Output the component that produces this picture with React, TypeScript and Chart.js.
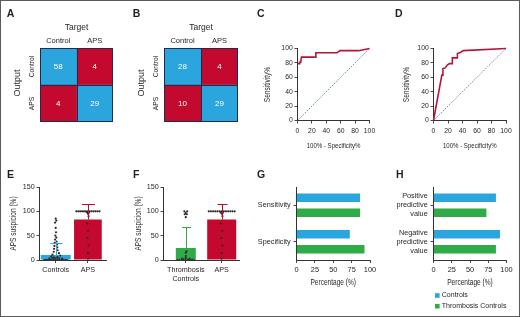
import React, { useEffect, useRef } from 'react';
import { Chart, registerables } from 'chart.js';

Chart.register(...registerables);

// ---------------- data ----------------
const matrixTargets = ['Control', 'APS'];
const matrixOutputs = ['Control', 'APS'];
// counts per Target column, rows = Output (Control, APS)
const matrixA_targetControl = [58, 4];
const matrixA_targetAPS = [4, 29];
const matrixB_targetControl = [28, 10];
const matrixB_targetAPS = [4, 29];

const rocTicks = [0, 20, 40, 60, 80, 100];
const chanceFpr = [0, 100];
const chanceSens = [0, 100];
const rocC_fpr = [0, 2.5, 3, 4.5, 5.5, 24.5, 25.5, 55, 59, 85, 100];
const rocC_sens = [79, 79, 81, 81, 88, 88, 94, 94, 97, 97, 100];
const rocD_fpr = [0, 11.5, 12.8, 13, 16, 19, 22, 26, 26, 33, 33, 37, 41, 100];
const rocD_sens = [0, 63, 63, 72, 73, 77, 79, 79, 87, 87, 93, 94.5, 97, 100];

const suspicionTicks = [0, 50, 100, 150];
const groupsE = ['Controls', 'APS'];
const meansE = [10.5, 83];
const sdUpperE = [34, 115];
const groupsF = [['Thrombosis', 'Controls'], 'APS'];
const meansF = [24.5, 83];
const sdUpperF = [68.5, 115];

const controlsDotOffsets = [0, 0.02, -0.02, 0, 0.01, -0.01, 0.02, -0.02, 0.03, -0.03, 0.04, -0.04, 0.05, -0.05, 0.06, -0.06, 0.1, -0.1, 0.14, -0.14,
  -0.36, -0.3, -0.24, -0.18, -0.12, -0.06, 0, 0.06, 0.12, 0.18, 0.24, 0.3, 0.36, -0.2, -0.1, 0, 0.1, 0.2, -0.05, 0.05];
const controlsDotValues = [85, 81, 77, 66, 57, 50, 46, 42, 38, 35, 32, 29, 26, 23, 20, 17, 14, 11, 9, 7,
  0, 0.5, 0, 1, 0, 1.5, 0, 1, 0, 1.5, 0, 0.5, 0, 3, 4, 3.5, 4, 3, 5.5, 6];
const apsDotOffsets = [-0.36, -0.3, -0.24, -0.18, -0.12, -0.06, 0, 0.06, 0.12, 0.18, 0.24, 0.3, 0.36, -0.03, 0.03, 0, 0.02, -0.02, 0.01, -0.01, 0.02, 0, 0];
const apsDotValues = [100, 100, 100, 100, 100, 100, 100, 100, 100, 100, 100, 100, 100, 98, 97, 95, 90, 75, 60, 45, 30, 14, 3];
const thrombosisDotOffsets = [-0.24, -0.18, -0.12, -0.06, 0, 0.06, 0.12, 0.18, 0.24, -0.1, 0, 0.1, 0, 0, 0.02, -0.04, 0.04, 0, -0.03, 0.03, 0];
const thrombosisDotValues = [0, 0.5, 0, 1, 0, 0.5, 0, 1, 0, 3, 4, 2.5, 8, 15, 18, 100, 100, 97, 94, 94, 88];

const seriesNames = ['Controls', 'Thrombosis Controls'];
const percentTicks = [0, 25, 50, 75, 100];
const metricsG = ['Sensitivity', 'Specificity'];
const controlsG = [86.5, 72.5];
const thrombosisG = [86.5, 92.5];
const metricsH = [['Positive', 'predictive', 'value'], ['Negative', 'predictive', 'value']];
const controlsH = [85.5, 91];
const thrombosisH = [72.5, 85.5];

// ---------------- styles ----------------
const W = 520;
const H = 317;
const SANS = '"Liberation Sans", Arial, Helvetica, sans-serif';
const TEXT = '#231f20';
const AXIS = '#333333';
const BLUE = '#2aa5de';
const RED = '#c30a2e';
const GREEN = '#2fac47';
const NAVY = '#1f2b48';
const ROC_RED = '#b5153b';
const DIAG = '#3d6fb6';
const DOT = '#2b2b2b';
const SQUEEZE = 0.8; // condensed look of the axis titles

Chart.defaults.font.family = SANS;

type Area = { l: number; t: number; r: number; b: number };

function padFor(a: Area, leftW: number, bottomH: number) {
  return { left: a.l - leftW, top: a.t, right: W - a.r, bottom: H - a.b - bottomH };
}

// draws text horizontally squeezed (condensed face substitute)
function squeezedText(ctx: any, text: string, x: number, y: number, size: number, rotate: boolean, squeeze = SQUEEZE) {
  ctx.save();
  ctx.translate(x, y);
  if (rotate) ctx.rotate(-Math.PI / 2);
  ctx.scale(squeeze, 1);
  ctx.font = `${size}px ${SANS}`;
  ctx.textAlign = 'center';
  ctx.textBaseline = 'middle';
  ctx.fillStyle = TEXT;
  ctx.fillText(text, 0, 0);
  ctx.restore();
}

// axis titles in a condensed style, placed at the outer edge of each axis box
function axisTitles(xTitle: string | null, yTitle: string | null, xSize = 8, ySize = 8) {
  return {
    id: 'axisTitles',
    afterDraw(chart: any) {
      const { ctx } = chart;
      const xs = chart.scales.x;
      const ys = chart.scales.y;
      if (xTitle) squeezedText(ctx, xTitle, (xs.left + xs.right) / 2, xs.bottom - xSize / 2, xSize, false);
      if (yTitle) squeezedText(ctx, yTitle, ys.left + ySize / 2, (ys.top + ys.bottom) / 2, ySize, true);
    },
  };
}

function linAxis(axis: 'x' | 'y', min: number, max: number, ticks: number[],
  tickSize: number, tickPad: number, thickness: number, labelFn?: (v: number) => any) {
  return {
    type: 'linear',
    min,
    max,
    offset: false,
    afterBuildTicks: (s: any) => { s.ticks = ticks.map((v) => ({ value: v })); },
    afterFit: (s: any) => { if (axis === 'x') s.height = thickness; else s.width = thickness; },
    grid: { drawOnChartArea: false, drawTicks: true, tickLength: 3, color: AXIS, lineWidth: 0.9, offset: false },
    border: { display: true, color: AXIS, width: 1 },
    ticks: {
      color: TEXT,
      font: { family: SANS, size: tickSize, lineHeight: 1.2 },
      padding: tickPad,
      autoSkip: false,
      maxRotation: 0,
      minRotation: 0,
      ...(labelFn ? { callback: (v: any) => labelFn(v) } : {}),
    },
    title: { display: false },
  };
}

const baseOptions = {
  responsive: false,
  animation: false,
  events: [],
};
const noPlugins = { legend: { display: false }, tooltip: { enabled: false } };

// ---------------- plugins ----------------
function matrixDecor() {
  return {
    id: 'matrixDecor',
    afterDatasetsDraw(chart: any) {
      const { ctx, chartArea: a, scales } = chart;
      const xs = scales.x;
      const ys = scales.y;
      ctx.save();
      ctx.textAlign = 'center';
      ctx.textBaseline = 'middle';
      ctx.fillStyle = '#ffffff';
      ctx.font = `8px ${SANS}`;
      chart.data.datasets.forEach((ds: any, di: number) => {
        chart.getDatasetMeta(di).data.forEach((el: any, i: number) => {
          const p = el.getCenterPoint();
          ctx.fillText(String(ds.counts[i]), p.x, p.y + 0.5);
        });
      });
      ctx.strokeStyle = NAVY;
      ctx.lineWidth = 1;
      const L = Math.round(a.left) + 0.5;
      const T = Math.round(a.top) + 0.5;
      const R = Math.round(a.right) - 0.5;
      const B = Math.round(a.bottom) - 0.5;
      ctx.strokeRect(L, T, R - L, B - T);
      const mx = Math.round(xs.getPixelForValue(1)) + 0.5;
      const my = Math.round((ys.getPixelForValue(0) + ys.getPixelForValue(1)) / 2) + 0.5;
      ctx.beginPath();
      ctx.moveTo(mx, T); ctx.lineTo(mx, B);
      ctx.moveTo(L, my); ctx.lineTo(R, my);
      ctx.stroke();

      ctx.fillStyle = TEXT;
      ctx.font = `8.5px ${SANS}`;
      ctx.fillText('Target', (a.left + a.right) / 2, a.top - 20);
      ctx.font = `7.5px ${SANS}`;
      matrixTargets.forEach((c, j) => ctx.fillText(c, xs.getPixelForValue(j + 0.5), a.top - 7.5));
      matrixOutputs.forEach((r, i) => squeezedText(ctx, r, a.left - 8, ys.getPixelForValue(i), 8, true, 0.84));
      ctx.restore();
      ctx.save();
      ctx.font = `9px ${SANS}`;
      ctx.fillStyle = TEXT;
      ctx.textAlign = 'center';
      ctx.textBaseline = 'middle';
      ctx.translate(a.left - 22, (a.top + a.bottom) / 2 - 2);
      ctx.rotate(-Math.PI / 2);
      ctx.fillText('Output', 0, 0);
      ctx.restore();
    },
  };
}

const errorBars = {
  id: 'errorBars',
  afterDatasetsDraw(chart: any) {
    const { ctx } = chart;
    const ys = chart.scales.y;
    chart.data.datasets.forEach((ds: any, di: number) => {
      if (!ds.errUpper) return;
      chart.getDatasetMeta(di).data.forEach((el: any, i: number) => {
        const x = Math.round(el.x) + 0.5;
        const yTop = Math.round(ys.getPixelForValue(ds.errUpper[i])) + 0.5;
        const yMean = ys.getPixelForValue(ds.data[i].y);
        ctx.save();
        ctx.strokeStyle = ds.errColor;
        ctx.lineWidth = 1;
        ctx.beginPath();
        ctx.moveTo(x, yMean);
        ctx.lineTo(x, yTop);
        ctx.moveTo(x - ds.capWidth / 2, yTop);
        ctx.lineTo(x + ds.capWidth / 2, yTop);
        ctx.stroke();
        ctx.restore();
      });
    });
  },
};

const seriesKey = {
  id: 'seriesKey',
  afterDraw(chart: any) {
    const { ctx, chartArea: a } = chart;
    ctx.save();
    chart.data.datasets.forEach((ds: any, i: number) => {
      const y = a.bottom + 35.5 + i * 10.7;
      ctx.fillStyle = ds.backgroundColor;
      ctx.fillRect(a.left + 1.5, y - 2.3, 4.6, 4.6);
      ctx.fillStyle = TEXT;
      ctx.font = `7px ${SANS}`;
      ctx.textAlign = 'left';
      ctx.textBaseline = 'middle';
      ctx.fillText(ds.label, a.left + 8.3, y);
    });
    ctx.restore();
  },
};

// ---------------- configs ----------------
function matrixConfig(area: Area, colControl: number[], colAPS: number[]) {
  const columns = [colControl, colAPS];
  return {
    type: 'bar',
    data: {
      labels: matrixOutputs,
      datasets: matrixTargets.map((t, j) => ({
        label: t,
        data: columns[j].map(() => 1),
        counts: columns[j],
        backgroundColor: (c: any) => (c.dataIndex === j ? BLUE : RED),
        borderWidth: 0,
        barPercentage: 1,
        categoryPercentage: 1,
      })),
    },
    options: {
      ...baseOptions,
      indexAxis: 'y',
      layout: { padding: padFor(area, 0, 0) },
      plugins: noPlugins,
      scales: {
        x: { type: 'linear', stacked: true, display: false, min: 0, max: 2 },
        y: { type: 'category', stacked: true, display: false },
      },
    },
    plugins: [matrixDecor()],
  };
}

function rocConfig(area: Area, leftW: number, fpr: number[], sens: number[]) {
  const bottomH = 29.4;
  return {
    type: 'scatter',
    data: {
      datasets: [
        { label: 'ROC curve', data: fpr.map((x, i) => ({ x, y: sens[i] })), showLine: true, borderColor: ROC_RED, borderWidth: 1.6, pointRadius: 0, clip: 6, order: 0 },
        { label: 'Chance', data: chanceFpr.map((x, i) => ({ x, y: chanceSens[i] })), showLine: true, borderColor: DIAG, borderWidth: 0.8, borderDash: [1.5, 1.2], pointRadius: 0, order: 1 },
      ],
    },
    options: {
      ...baseOptions,
      layout: { padding: padFor(area, leftW, bottomH) },
      plugins: noPlugins,
      scales: {
        x: linAxis('x', 0, 100, rocTicks, 6.8, 3.4, bottomH),
        y: linAxis('y', 0, 100, rocTicks, 6.8, 1.8, leftW),
      },
    },
    plugins: [axisTitles('100% - Specificity%', 'Sensitivity%', 7.6, 8.2)],
  };
}

function suspicionConfig(area: Area, leftW: number, groups: any[], means: number[], sdUpper: number[],
  colors: string[], barPct: number[], caps: number[], dotOffsets: number[][], dotValues: number[][],
  xMin: number, xMax: number) {
  const bottomH = 30;
  return {
    type: 'bar',
    data: {
      datasets: [
        ...dotOffsets.map((offs, gi) => ({
          type: 'scatter',
          label: 'points ' + gi,
          data: offs.map((o, k) => ({ x: gi + o, y: dotValues[gi][k] })),
          pointRadius: 1.1,
          pointBackgroundColor: DOT,
          pointBorderWidth: 0,
          order: 0,
        })),
        ...groups.map((g, i) => ({
          type: 'bar',
          label: String(g),
          data: [{ x: i, y: means[i] }],
          backgroundColor: colors[i],
          grouped: false,
          categoryPercentage: 1,
          barPercentage: barPct[i],
          errUpper: [sdUpper[i]],
          errColor: colors[i],
          capWidth: caps[i],
          order: 1,
        })),
      ],
    },
    options: {
      ...baseOptions,
      layout: { padding: padFor(area, leftW, bottomH) },
      plugins: noPlugins,
      scales: {
        x: linAxis('x', xMin, xMax, groups.map((_, i) => i), 7.2, 2.6, bottomH, (v) => groups[v]),
        y: linAxis('y', 0, 150, suspicionTicks, 7.2, 1.8, leftW),
      },
    },
    plugins: [errorBars, axisTitles(null, 'APS suspicion (%)', 8, 8.2)],
  };
}

function metricConfig(area: Area, labels: any[], controls: number[], thrombosis: number[], withKey: boolean) {
  const bottomH = 26.4;
  return {
    type: 'bar',
    data: {
      labels,
      datasets: [
        { label: seriesNames[0], data: controls, backgroundColor: BLUE },
        { label: seriesNames[1], data: thrombosis, backgroundColor: GREEN },
      ],
    },
    options: {
      ...baseOptions,
      indexAxis: 'y',
      layout: { padding: padFor(area, 60, bottomH) },
      plugins: noPlugins,
      datasets: { bar: { categoryPercentage: 0.82, barPercentage: 0.57 } },
      scales: {
        x: linAxis('x', 0, 100, percentTicks, 7.4, 2.6, bottomH),
        y: {
          type: 'category',
          offset: true,
          afterFit: (s: any) => { s.width = 60; },
          grid: { drawOnChartArea: false, drawTicks: true, tickLength: 3, color: AXIS, lineWidth: 0.9, offset: false },
          border: { display: true, color: AXIS, width: 1 },
          ticks: { color: TEXT, font: { family: SANS, size: 7.3, lineHeight: 1.26 }, padding: 2.8, autoSkip: false },
        },
      },
    },
    plugins: withKey
      ? [seriesKey, axisTitles('Percentage (%)', null, 8.2, 8)]
      : [axisTitles('Percentage (%)', null, 8.2, 8)],
  };
}

// ---------------- components ----------------
function ChartLayer({ make }: { make: () => any }) {
  const ref = useRef<HTMLCanvasElement>(null);
  useEffect(() => {
    const chart = new Chart(ref.current as HTMLCanvasElement, make());
    return () => chart.destroy();
  }, []);
  return (
    <canvas
      ref={ref}
      width={W}
      height={H}
      style={{ position: 'absolute', left: 0, top: 0, width: W, height: H }}
    />
  );
}

const letters: [string, number, number][] = [
  ['A', 6.7, 7.8], ['B', 132.7, 7.8], ['C', 257, 7.8], ['D', 395, 7.8],
  ['E', 7, 168.6], ['F', 133, 168.6], ['G', 257, 168.6], ['H', 396, 168.6],
];

export default function App() {
  const layers = [
    () => matrixConfig({ l: 40, t: 48, r: 113, b: 122 }, matrixA_targetControl, matrixA_targetAPS),
    () => matrixConfig({ l: 164, t: 48, r: 238, b: 122 }, matrixB_targetControl, matrixB_targetAPS),
    () => rocConfig({ l: 297.5, t: 48.5, r: 369.5, b: 120.5 }, 33.6, rocC_fpr, rocC_sens),
    () => rocConfig({ l: 433.5, t: 48.5, r: 506, b: 120.5 }, 30.9, rocD_fpr, rocD_sens),
    () => suspicionConfig({ l: 39.5, t: 187, r: 106, b: 260 }, 30.3, groupsE, meansE, sdUpperE,
      [BLUE, RED], [0.93, 0.86], [12, 13], [controlsDotOffsets, apsDotOffsets], [controlsDotValues, apsDotValues], -0.503, 1.562),
    () => suspicionConfig({ l: 163.5, t: 187, r: 239, b: 260 }, 29.3, groupsF, meansF, sdUpperF,
      [GREEN, RED], [0.557, 0.808], [9, 10], [thrombosisDotOffsets, apsDotOffsets], [thrombosisDotValues, apsDotValues], -0.621, 1.482),
    () => metricConfig({ l: 296.5, t: 187, r: 370, b: 260 }, metricsG, controlsG, thrombosisG, false),
    () => metricConfig({ l: 433.5, t: 187, r: 506.5, b: 260 }, metricsH, controlsH, thrombosisH, true),
  ];
  return (
    <div
      style={{
        position: 'fixed', left: 0, top: 0, width: W, height: H, background: '#fff',
        overflow: 'hidden',
      }}
    >
      {layers.map((make, i) => <ChartLayer key={i} make={make} />)}
      {letters.map(([t, x, y]) => (
        <div
          key={t}
          style={{
            position: 'absolute', left: x, top: y, fontFamily: SANS, fontWeight: 'bold',
            fontSize: 10.5, lineHeight: '10.5px', color: TEXT,
          }}
        >
          {t}
        </div>
      ))}
      <div
        style={{
          position: 'absolute', left: 0, top: 0, width: W, height: H, boxSizing: 'border-box',
          border: '1px solid #5a5a5a', pointerEvents: 'none',
        }}
      />
    </div>
  );
}
